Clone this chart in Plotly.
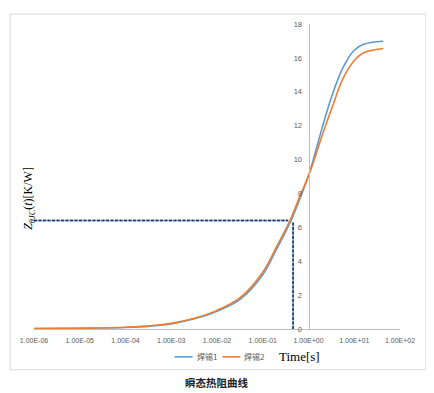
import plotly.graph_objects as go

# Data
time_s = [1e-6, 1e-5, 1e-4, 3.5e-4, 1e-3, 3.2e-3, 1e-2, 3.2e-2, 0.1, 0.2,
          0.4, 0.63, 1.0, 1.26, 2.0, 3.2, 5.6, 10.0, 16.0, 43.0]
solder1 = [0.02, 0.04, 0.09, 0.17, 0.30, 0.60, 1.05, 1.75, 3.2, 4.7,
           6.3, 7.6, 9.05, 9.95, 11.9, 13.7, 15.4, 16.45, 16.8, 16.98]
solder2 = [0.02, 0.045, 0.10, 0.19, 0.33, 0.63, 1.10, 1.85, 3.35, 4.85,
           6.45, 7.75, 9.05, 9.8, 11.45, 13.0, 14.75, 15.85, 16.3, 16.55]
series_names = ["焊锡1", "焊锡2"]
series_colors = ["#5B9BD5", "#ED7D31"]

hline_x = [1e-6, 0.36]
hline_y = [6.4, 6.4]
vline_x = [0.46, 0.46]
vline_y = [0.0, 6.3]

x_tickvals = [1e-6, 1e-5, 1e-4, 1e-3, 1e-2, 1e-1, 1e0, 1e1, 1e2]
x_ticktext = ["1.00E-06", "1.00E-05", "1.00E-04", "1.00E-03", "1.00E-02",
              "1.00E-01", "1.00E+00", "1.00E+01", "1.00E+02"]
y_tickvals = [0, 2, 4, 6, 8, 10, 12, 14, 16, 18]

fig = go.Figure()

# dashed guide lines (light blue under dark dash)
for xs, ys in [(hline_x, hline_y), (vline_x, vline_y)]:
    fig.add_trace(go.Scatter(x=xs, y=ys, mode="lines", showlegend=False,
                             line=dict(color="#9dc3e6", width=2), hoverinfo="skip"))
    fig.add_trace(go.Scatter(x=xs, y=ys, mode="lines", showlegend=False,
                             line=dict(color="#1f3350", width=1.6, dash="3px,1.5px"),
                             hoverinfo="skip"))

for name, vals, col in zip(series_names, [solder1, solder2], series_colors):
    fig.add_trace(go.Scatter(x=time_s, y=vals, mode="lines", name=name,
                             line=dict(color=col, width=1.6, shape="spline", smoothing=1)))

# page body has an 8px margin: figure occupies window pixels 8..434 / 8..393
OFF = 8
W, H = 434 - OFF, 393 - OFF
L, R, T, B = 33 - OFF, 34, 22 - OFF, 64
pw = W - L - R
ph = H - T - B

def px2x(px):  # reference window pixel -> paper fraction
    return (px - 33) / pw

def py2y(py):
    return (329 - py) / ph

fig.update_layout(
    width=W, height=H,
    margin=dict(l=L, r=R, t=T, b=B),
    paper_bgcolor="white", plot_bgcolor="white",
    showlegend=False,
    xaxis=dict(type="log", range=[-6, 2], showgrid=False, zeroline=False,
               showline=True, linecolor="#bfbfbf", linewidth=1,
               tickvals=x_tickvals, ticktext=x_ticktext,
               ticks="outside", ticklen=5, tickcolor="rgba(0,0,0,0)",
               tickfont=dict(family="Liberation Sans", size=7, color="#595959")),
    yaxis=dict(range=[0, 18], showgrid=False, zeroline=False,
               anchor="free", position=0.75,
               showline=True, linecolor="#bfbfbf", linewidth=1,
               tickvals=y_tickvals,
               ticks="outside", ticklen=5, tickcolor="rgba(0,0,0,0)",
               tickfont=dict(family="Liberation Sans", size=7.5, color="#595959")),
)

# outer chart frame
fig.add_shape(type="rect", xref="paper", yref="paper",
              x0=px2x(9), x1=px2x(426), y0=py2y(370), y1=py2y(12),
              line=dict(color="#d9d9d9", width=1), fillcolor="rgba(0,0,0,0)", layer="below")

# legend (drawn manually for Excel-like compact sample lines)
legend_items = [(174, 192, 194), (222, 240, 242)]
for (x0, x1, tx), name, col in zip(legend_items, series_names, series_colors):
    fig.add_shape(type="line", xref="paper", yref="paper",
                  x0=px2x(x0), x1=px2x(x1), y0=py2y(357), y1=py2y(357),
                  line=dict(color=col, width=1.6))
    fig.add_annotation(xref="paper", yref="paper", x=px2x(tx), y=py2y(357),
                       xanchor="left", yanchor="middle", text=name, showarrow=False,
                       font=dict(family="Noto Sans CJK SC", size=8, color="#595959"))

# axis titles
fig.add_annotation(xref="paper", yref="paper", x=px2x(28), y=py2y(198),
                   xanchor="center", yanchor="middle",
                   text="<i>Z</i><sub><i>θJC</i></sub>(<i>t</i>)[K/W]", textangle=-90,
                   showarrow=False, font=dict(family="Liberation Serif", size=12, color="black"))
fig.add_annotation(xref="paper", yref="paper", x=px2x(299), y=py2y(357),
                   xanchor="center", yanchor="middle",
                   text="Time[s]", showarrow=False,
                   font=dict(family="Liberation Serif", size=13, color="black"))
# caption
fig.add_annotation(xref="paper", yref="paper", x=px2x(217), y=py2y(383),
                   xanchor="center", yanchor="middle",
                   text="<b>瞬态热阻曲线</b>", showarrow=False,
                   font=dict(family="Noto Sans CJK SC", size=10.5, color="#222222"))

fig.write_html("out.html")
